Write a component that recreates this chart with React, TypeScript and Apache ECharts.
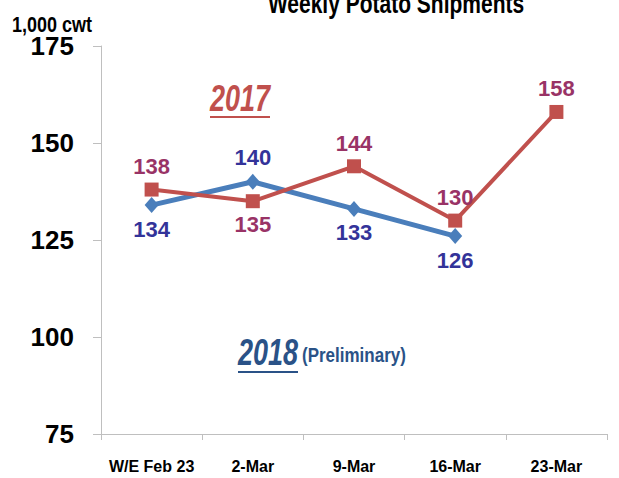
import React, { useEffect, useRef } from "react";
import * as echarts from "echarts";

const categories = ["W/E Feb 23", "2-Mar", "9-Mar", "16-Mar", "23-Mar"];
const values2017 = [138, 135, 144, 130, 158];
const values2018: (number | null)[] = [134, 140, 133, 126, null];
const labelPos2017 = ["top", "bottom", "top", "top", "top"];
const labelPos2018 = ["bottom", "top", "bottom", "bottom", "bottom"];
const yTicks = { min: 75, max: 175, interval: 25 };

const FONT = "'Liberation Sans', Arial, sans-serif";

export default function App() {
  const ref = useRef<HTMLDivElement>(null);
  useEffect(() => {
    if (!ref.current) return;
    const chart = echarts.init(ref.current, null, { renderer: "svg" });
    const mk = (vals: (number | null)[], pos: string[]) =>
      vals.map((v, i) => ({
        value: v,
        label: { position: pos[i] },
      }));
    const txt = (
      text: string,
      x: number,
      y: number,
      font: string,
      fill: string,
      align: string,
      scaleY: number
    ) => ({
      type: "text",
      x,
      y,
      scaleY,
      style: {
        text,
        x: 0,
        y: 0,
        textAlign: align,
        textVerticalAlign: "middle",
        font,
        fill,
      },
    });
    chart.setOption({
      animation: false,
      grid: { left: 101, right: 12, top: 46, bottom: 44 },
      xAxis: {
        type: "category",
        data: categories,
        boundaryGap: true,
        axisLine: { lineStyle: { color: "#bfbfbf", width: 1 } },
        axisTick: { show: true, length: 6, interval: 0, lineStyle: { color: "#bfbfbf" } },
        axisLabel: {
          interval: 0,
          color: "#000",
          fontFamily: FONT,
          fontWeight: "bold",
          fontSize: 16,
          margin: 24,
        },
      },
      yAxis: {
        type: "value",
        min: yTicks.min,
        max: yTicks.max,
        interval: yTicks.interval,
        splitLine: { show: false },
        axisLine: { show: true, lineStyle: { color: "#bfbfbf", width: 1 } },
        axisTick: { show: true, length: 8, lineStyle: { color: "#bfbfbf" } },
        axisLabel: {
          color: "#000",
          fontFamily: FONT,
          fontWeight: "bold",
          fontSize: 26,
          margin: 27,
        },
      },
      series: [
        {
          name: "2018",
          type: "line",
          data: mk(values2018, labelPos2018),
          symbol: "diamond",
          symbolSize: [14, 16],
          itemStyle: { color: "#4a7ebb" },
          lineStyle: { color: "#4a7ebb", width: 5 },
          label: {
            show: true,
            color: "#333399",
            fontFamily: FONT,
            fontWeight: "bold",
            fontSize: 22,
            distance: 5,
          },
          z: 2,
        },
        {
          name: "2017",
          type: "line",
          data: mk(values2017, labelPos2017),
          symbol: "rect",
          symbolSize: 14,
          itemStyle: { color: "#c0504d" },
          lineStyle: { color: "#c0504d", width: 4 },
          label: {
            show: true,
            color: "#993366",
            fontFamily: FONT,
            fontWeight: "bold",
            fontSize: 22,
            distance: 5,
          },
          z: 3,
        },
      ],
      graphic: [
        txt("Weekly Potato Shipments", 396, 3, `bold 21px ${FONT}`, "#000", "center", 1.35),
        txt("1,000 cwt", 12, 24, `bold 18px ${FONT}`, "#000", "left", 1.25),
        txt("2017", 240, 98, `italic bold 27px ${FONT}`, "#c0504d", "center", 1.35),
        {
          type: "line",
          shape: { x1: 210, y1: 117, x2: 270, y2: 117 },
          style: { stroke: "#c0504d", lineWidth: 2 },
        },
        txt("2018", 268, 352, `italic bold 27px ${FONT}`, "#2a5287", "center", 1.35),
        {
          type: "line",
          shape: { x1: 238, y1: 372, x2: 298, y2: 372 },
          style: { stroke: "#2a5287", lineWidth: 2 },
        },
        txt("(Preliminary)", 302, 355, `bold 17px ${FONT}`, "#2a5287", "left", 1.2),
      ],
    });
    return () => chart.dispose();
  }, []);
  return <div ref={ref} style={{ width: 619, height: 478, position: "absolute", left: 0, top: 0 }} />;
}
